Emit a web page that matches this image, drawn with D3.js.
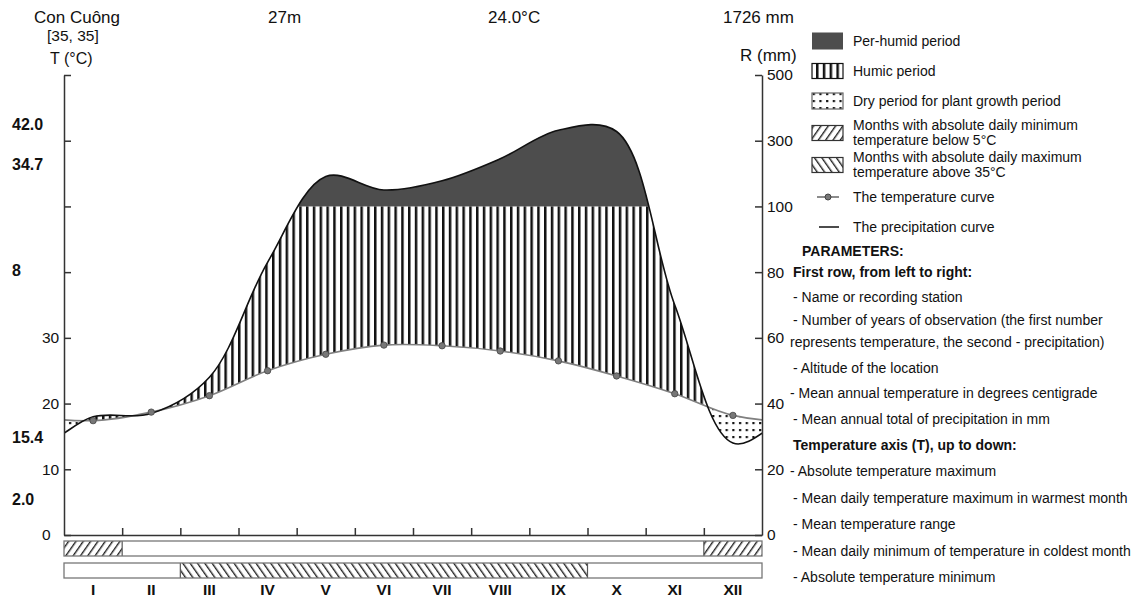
<!DOCTYPE html>
<html>
<head>
  <meta charset="utf-8">
  <title>Con Cuông - climate diagram</title>
  <script src="https://cdn.jsdelivr.net/npm/d3@7"></script>
  <style>
    body { margin: 0; background: #fff; }
    svg { font-family: Arial, "Liberation Sans", sans-serif; fill: #111; }
    .axis path, .axis line { stroke: #333; stroke-width: 1.5; }
    .axis text { font-size: 15.5px; fill: #111; }
    .legend text, .params text { font-size: 14px; }
  </style>
</head>
<body>
  <svg id="chart" width="1134" height="598"></svg>
  <script>
    // monthly values
    var months = ["I", "II", "III", "IV", "V", "VI", "VII", "VIII", "IX", "X", "XI", "XII"];
    var temperature = [17.4, 18.7, 21.2, 25.0, 27.5, 28.9, 28.8, 28.0, 26.5, 24.2, 21.5, 18.2];
    var precipitation = [36, 37, 48, 83, 191, 150, 178, 245, 332, 328, 70, 28];
    var coldMonths = ["I", "XII"];                                   // abs. min below 5°C
    var hotMonths = ["III", "IV", "V", "VI", "VII", "VIII", "IX"];   // abs. max above 35°C

    var tempTicks = [0, 10, 20, 30, 40, 50, 60, 70];
    var tempTickLabels = [0, 10, 20, 30];
    var rainTicks = [0, 20, 40, 60, 80, 100, 300, 500];

    var station = "Con Cuông", years = "[35, 35]", altitude = "27m",
      meanTemp = "24.0°C", totalRain = "1726 mm";
    var tempStats = ["42.0", "34.7", "8", "15.4", "2.0"];

    var legendLabels = [
      ["Per-humid period"],
      ["Humic period"],
      ["Dry period for plant growth period"],
      ["Months with absolute daily minimum", "temperature below 5°C"],
      ["Months with absolute daily maximum", "temperature above 35°C"],
      ["The temperature curve"],
      ["The precipitation curve"]
    ];
    var paramLines = [
      "PARAMETERS:",
      "First row, from left to right:",
      "- Name or recording station",
      "- Number of years of observation (the first number",
      "represents temperature, the second - precipitation)",
      "- Altitude of the location",
      "- Mean annual temperature in degrees centigrade",
      "- Mean annual total of precipitation in mm",
      "Temperature axis (T), up to down:",
      "- Absolute temperature maximum",
      "- Mean daily temperature maximum in warmest month",
      "- Mean temperature range",
      "- Mean daily minimum of temperature in coldest month",
      "- Absolute temperature minimum"
    ];
    var paramBold = [0, 1, 8];

    // layout
    var pL = 64, pR = 762, pT = 75, pB = 535;
    var statY = [124, 164, 270, 437, 499];
    var legendY = [41, 71, 101, 133, 165, 197, 227];
    var paramY = [251, 272, 297, 320, 342, 368, 393, 419, 445, 471, 498, 524, 551, 577];
    var paramX = [802, 793, 793, 793, 790, 793, 790, 793, 793, 790, 793, 793, 793, 793];

    var svg = d3.select("#chart");

    var x = d3.scaleLinear().domain([0, 12]).range([pL, pR]);
    var yT = d3.scaleLinear().domain([0, 70]).range([pB, pT]);
    var yP = d3.scaleLinear().domain([0, 100, 500]).range([pB, yT(50), pT]);

    // wrap the year around so the curves run smoothly off both edges
    var pts = d3.range(-2, 14).map(function (i) {
      var m = (i + 12) % 12;
      return { x: x(i + 0.5), t: temperature[m], p: precipitation[m] };
    });
    var curve = d3.curveCatmullRom.alpha(0.5);
    var tY = function (d) { return yT(d.t); }, pY = function (d) { return yP(d.p); };
    var lineT = d3.line().x(function (d) { return d.x; }).y(tY).curve(curve);
    var lineP = d3.line().x(function (d) { return d.x; }).y(pY).curve(curve);
    function band(yfn, base) {
      return d3.area().x(function (d) { return d.x; }).y0(base).y1(yfn).curve(curve)(pts);
    }

    var defs = svg.append("defs");
    defs.append("clipPath").attr("id", "plot").append("rect")
      .attr("x", pL).attr("y", 0).attr("width", pR - pL).attr("height", pB);
    defs.append("clipPath").attr("id", "underP").append("path").attr("d", band(pY, pB));
    defs.append("clipPath").attr("id", "aboveP").append("path").attr("d", band(pY, 0));
    defs.append("clipPath").attr("id", "underT").append("path").attr("d", band(tY, pB));
    defs.append("clipPath").attr("id", "aboveT").append("path").attr("d", band(tY, 0));

    var pv = defs.append("pattern").attr("id", "vert").attr("patternUnits", "userSpaceOnUse")
      .attr("width", 6.8).attr("height", 10);
    pv.append("rect").attr("width", 2.5).attr("height", 10).attr("fill", "#111");

    var pd = defs.append("pattern").attr("id", "dots").attr("patternUnits", "userSpaceOnUse")
      .attr("width", 6.7).attr("height", 7);
    pd.append("rect").attr("x", 2).attr("y", 2).attr("width", 2.2).attr("height", 2.2).attr("fill", "#111");

    [["fwd", 35], ["back", -35]].forEach(function (h) {
      var p = defs.append("pattern").attr("id", h[0]).attr("patternUnits", "userSpaceOnUse")
        .attr("width", 6).attr("height", 10).attr("patternTransform", "rotate(" + h[1] + ")");
      p.append("rect").attr("width", 1.4).attr("height", 10).attr("fill", "#222");
    });

    var plot = svg.append("g").attr("clip-path", "url(#plot)");

    // per-humid period (above 100 mm)
    plot.append("g").attr("clip-path", "url(#underP)")
      .append("rect").attr("x", pL).attr("y", 0).attr("width", pR - pL).attr("height", yP(100))
      .attr("fill", "#4d4d4d");

    // humid period
    plot.append("g").attr("clip-path", "url(#aboveT)")
      .append("g").attr("clip-path", "url(#underP)")
      .append("rect").attr("x", pL).attr("y", yP(100)).attr("width", pR - pL).attr("height", pB - yP(100))
      .attr("fill", "url(#vert)");

    // dry period
    plot.append("g").attr("clip-path", "url(#underT)")
      .append("g").attr("clip-path", "url(#aboveP)")
      .append("rect").attr("x", pL).attr("y", 0).attr("width", pR - pL).attr("height", pB)
      .attr("fill", "url(#dots)");

    plot.append("path").attr("d", lineT(pts)).attr("fill", "none").attr("stroke", "#808080").attr("stroke-width", 1.6);
    plot.append("path").attr("d", lineP(pts)).attr("fill", "none").attr("stroke", "#111").attr("stroke-width", 1.6);

    plot.selectAll(".tdot").data(temperature).enter().append("circle")
      .attr("cx", function (d, i) { return x(i + 0.5); })
      .attr("cy", function (d) { return yT(d); })
      .attr("r", 3.2).attr("fill", "#777").attr("stroke", "#444").attr("stroke-width", 0.8);

    // axes
    var axT = svg.append("g").attr("class", "axis").attr("transform", "translate(" + pL + ",0)")
      .call(d3.axisLeft(yT).tickValues(tempTicks).tickSizeInner(-7).tickSizeOuter(0)
        .tickFormat(function (d) { return tempTickLabels.indexOf(d) >= 0 ? d : ""; }));
    axT.selectAll("text").attr("x", -22).attr("text-anchor", "start");

    svg.append("g").attr("class", "axis").attr("transform", "translate(" + pR + ",0)")
      .call(d3.axisRight(yP).tickValues(rainTicks).tickSizeInner(-7).tickSizeOuter(0).tickPadding(5));

    svg.append("g").attr("class", "axis").attr("transform", "translate(0," + pB + ")")
      .call(d3.axisBottom(x).tickValues(d3.range(1, 12)).tickSizeInner(-7).tickSizeOuter(0).tickFormat(""));

    // month bars
    function monthBar(y0, list, pat) {
      var g = svg.append("g");
      g.selectAll("rect").data(months).enter().append("rect")
        .attr("x", function (d, i) { return x(i); })
        .attr("y", y0).attr("width", x(1) - x(0)).attr("height", 15)
        .attr("fill", function (d) { return list.indexOf(d) >= 0 ? "url(#" + pat + ")" : "#fff"; });
      months.forEach(function (m, i) {
        if (i > 0 && (list.indexOf(m) >= 0) !== (list.indexOf(months[i - 1]) >= 0)) {
          g.append("line").attr("x1", x(i)).attr("x2", x(i)).attr("y1", y0).attr("y2", y0 + 15)
            .attr("stroke", "#555").attr("stroke-width", 1.2);
        }
      });
      g.append("rect").attr("x", pL).attr("y", y0).attr("width", pR - pL).attr("height", 15)
        .attr("fill", "none").attr("stroke", "#777").attr("stroke-width", 1.3);
    }
    monthBar(541, coldMonths, "fwd");
    monthBar(563, hotMonths, "back");

    svg.selectAll(".month").data(months).enter().append("text")
      .attr("x", function (d, i) { return x(i + 0.5); })
      .attr("y", 590).attr("dy", "0.35em").attr("text-anchor", "middle")
      .style("font-size", "15.5px").style("font-weight", "bold").text(function (d) { return d; });

    // header
    var head = svg.append("g").style("font-size", "17px");
    head.append("text").attr("x", 34).attr("y", 17).attr("dy", "0.35em").text(station);
    head.append("text").attr("x", 268).attr("y", 17).attr("dy", "0.35em").text(altitude);
    head.append("text").attr("x", 488).attr("y", 17).attr("dy", "0.35em").text(meanTemp);
    head.append("text").attr("x", 723).attr("y", 17).attr("dy", "0.35em").text(totalRain);
    svg.append("text").attr("x", 47).attr("y", 36).attr("dy", "0.35em").style("font-size", "15.5px").text(years);
    svg.append("text").attr("x", 50).attr("y", 58).attr("dy", "0.35em").style("font-size", "16px").text("T (°C)");
    svg.append("text").attr("x", 740).attr("y", 55).attr("dy", "0.35em").style("font-size", "17px").text("R (mm)");

    svg.selectAll(".stat").data(tempStats).enter().append("text")
      .attr("x", 12).attr("y", function (d, i) { return statY[i]; }).attr("dy", "0.35em")
      .style("font-size", "16px").style("font-weight", "bold").text(function (d) { return d; });

    // legend
    var lg = svg.append("g").attr("class", "legend");
    var sw = [
      { fill: "#4d4d4d", stroke: "none", h: 17 },
      { fill: "url(#vert)", stroke: "#111", h: 15 },
      { fill: "url(#dots)", stroke: "#666", h: 16 },
      { fill: "url(#fwd)", stroke: "#333", h: 15 },
      { fill: "url(#back)", stroke: "#333", h: 15 }
    ];
    sw.forEach(function (s, i) {
      lg.append("rect").attr("x", 812).attr("y", legendY[i] - s.h / 2).attr("width", 31).attr("height", s.h)
        .attr("fill", s.fill).attr("stroke", s.stroke).attr("stroke-width", 1.2);
    });
    lg.append("line").attr("x1", 817).attr("x2", 839).attr("y1", legendY[5]).attr("y2", legendY[5])
      .attr("stroke", "#666").attr("stroke-width", 1.5);
    lg.append("circle").attr("cx", 828).attr("cy", legendY[5]).attr("r", 3).attr("fill", "#777").attr("stroke", "#444");
    lg.append("line").attr("x1", 819).attr("x2", 839).attr("y1", legendY[6]).attr("y2", legendY[6])
      .attr("stroke", "#111").attr("stroke-width", 1.5);
    legendLabels.forEach(function (l, i) {
      var t = lg.append("text").attr("x", 853).attr("y", legendY[i] - (l.length - 1) * 7.5);
      l.forEach(function (s, j) {
        t.append("tspan").attr("x", 853).attr("dy", j === 0 ? "0.35em" : "15px").text(s);
      });
    });

    // parameters
    svg.append("g").attr("class", "params").selectAll("text").data(paramLines).enter().append("text")
      .attr("x", function (d, i) { return paramX[i]; })
      .attr("y", function (d, i) { return paramY[i]; }).attr("dy", "0.35em")
      .style("font-weight", function (d, i) { return paramBold.indexOf(i) >= 0 ? "bold" : "normal"; })
      .text(function (d) { return d; });
  </script>
</body>
</html>
